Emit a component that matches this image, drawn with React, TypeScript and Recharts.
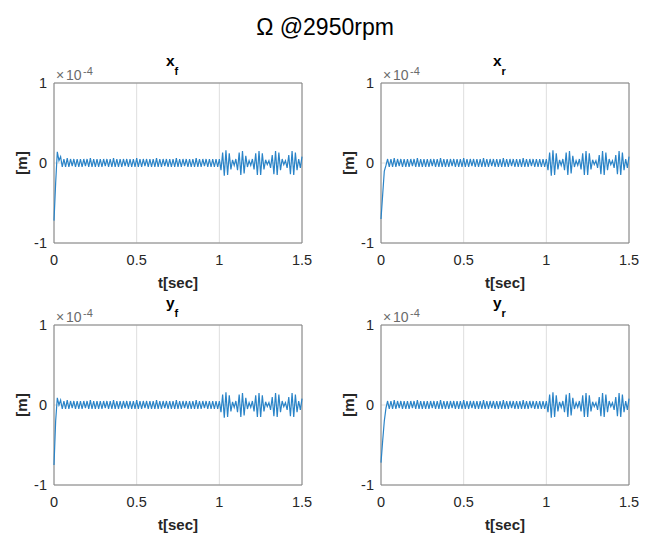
import React from 'react';
import { LineChart, Line, XAxis, YAxis, CartesianGrid, ReferenceLine } from 'recharts';

// displacement values in units of 1e-4 m, one sample every 0.01 s
const T_STEP = 0.01;

// first 0.05 s (t = 0 .. 0.04) for each signal
const XF_START = [-0.72, -0.25, 0.14, 0.03, 0.08];
const XR_START = [-0.7, -0.4, -0.1, -0.03, 0.05];
const YF_START = [-0.75, -0.2, 0.09, 0.0, 0.06];
const YR_START = [-0.72, -0.45, -0.2, -0.04, 0.05];

// t = 0.05 .. 0.99
const STEADY = [
  -0.05, 0.05, -0.05, 0.06, -0.05, 0.05, -0.04, 0.05, -0.05, 0.05,
  -0.05, 0.05, -0.05, 0.05, -0.04, 0.05, -0.05, 0.06, -0.05, 0.05,
  -0.05, 0.05, -0.05, 0.05, -0.05, 0.05, -0.04, 0.05, -0.05, 0.05,
  -0.05, 0.06, -0.05, 0.05, -0.05, 0.05, -0.05, 0.05, -0.04, 0.05,
  -0.05, 0.05, -0.05, 0.05, -0.05, 0.06, -0.05, 0.05, -0.05, 0.05,
  -0.04, 0.05, -0.05, 0.05, -0.05, 0.05, -0.05, 0.06, -0.05, 0.05,
  -0.05, 0.05, -0.04, 0.05, -0.05, 0.05, -0.05, 0.05, -0.05, 0.06,
  -0.05, 0.05, -0.05, 0.05, -0.04, 0.05, -0.05, 0.05, -0.05, 0.05,
  -0.05, 0.06, -0.05, 0.05, -0.05, 0.05, -0.04, 0.05, -0.05, 0.05,
  -0.05, 0.05, -0.05, 0.05, -0.05,
];

// t = 1.00 .. 1.50, beating after the disturbance
const BURST = [
  0.05, -0.09, 0.13, -0.16, 0.16, -0.15, 0.12, -0.08, 0.04, -0.03,
  0.05, -0.09, 0.13, -0.15, 0.15, -0.13, 0.09, -0.05, 0.03, -0.03,
  0.05, -0.08, 0.12, -0.15, 0.15, -0.15, 0.12, -0.08, 0.04, -0.02,
  0.03, -0.06, 0.1, -0.14, 0.15, -0.15, 0.13, -0.09, 0.05, -0.02,
  0.03, -0.06, 0.1, -0.14, 0.15, -0.15, 0.13, -0.09, 0.05, -0.06,
  0.08,
];

const X_TICKS = [0, 0.5, 1, 1.5];
const Y_TICKS = [-1, 0, 1];

const buildSeries = (start: number[]) =>
  [...start, ...STEADY, ...BURST].map((v, i) => ({ t: +(i * T_STEP).toFixed(2), v }));

const panels = [
  { key: 'xf', name: 'x', sub: 'f', data: buildSeries(XF_START), left: 54, top: 83 },
  { key: 'xr', name: 'x', sub: 'r', data: buildSeries(XR_START), left: 381, top: 83 },
  { key: 'yf', name: 'y', sub: 'f', data: buildSeries(YF_START), left: 54, top: 325 },
  { key: 'yr', name: 'y', sub: 'r', data: buildSeries(YR_START), left: 381, top: 325 },
];

const PW = 248;
const PH = 160;
const FONT = '"Liberation Sans", Arial, sans-serif';
const BOX = '#828282';

export default function App() {
  return (
    <div style={{ position: 'absolute', left: 0, top: 0, width: 648, height: 538, background: '#fff', fontFamily: FONT }}>
      {panels.map((p) => (
        <div key={p.key} style={{ position: 'absolute', left: p.left - 54, top: p.top - 45 }}>
          <LineChart width={54 + PW + 20} height={45 + PH + 60} data={p.data}
            margin={{ top: 45, right: 20, bottom: 0, left: 0 }}>
            <CartesianGrid stroke="#dedede" />
            <XAxis dataKey="t" type="number" domain={[0, 1.5]} ticks={X_TICKS} height={60}
              axisLine={false} tickLine={false} tickMargin={6}
              tick={{ fontSize: 14.5, fill: '#262626', fontFamily: FONT }} />
            <YAxis type="number" domain={[-1, 1]} ticks={Y_TICKS} width={54}
              axisLine={false} tickLine={false} tickMargin={1}
              tick={{ fontSize: 14.5, fill: '#262626', fontFamily: FONT }} />
            <ReferenceLine x={0} stroke={BOX} />
            <ReferenceLine x={1.5} stroke={BOX} />
            <ReferenceLine y={1} stroke={BOX} />
            <ReferenceLine y={-1} stroke={BOX} />
            <Line dataKey="v" type="linear" stroke="#2a84c8" strokeWidth={1.2} dot={false} isAnimationActive={false} />
          </LineChart>
        </div>
      ))}
      <svg width={648} height={538} style={{ position: 'absolute', left: 0, top: 0, pointerEvents: 'none' }}
        fontFamily={FONT}>
        <text x={325} y={35} textAnchor="middle" fontSize={23} fill="#000">Ω @2950rpm</text>
        {panels.map((p) => {
          const cx = p.left + PW / 2;
          return (
            <g key={p.key}>
              <text x={cx - 12} y={p.top - 17} fontSize={15.5} fontWeight="bold" fill="#000">{p.name}</text>
              <text x={cx - 3.5} y={p.top - 8.5} fontSize={11} fontWeight="bold" fill="#000">{p.sub}</text>
              <text x={p.left + 2} y={p.top - 3} fontSize={14} fill="#6b6b6b">×</text>
              <text x={p.left + 12} y={p.top - 3} fontSize={14} fill="#6b6b6b">10</text>
              <text x={p.left + 29} y={p.top - 8} fontSize={11} fill="#6b6b6b">-4</text>
              <text x={cx} y={p.top + PH + 45} textAnchor="middle" fontSize={15} fontWeight="bold" fill="#262626">t[sec]</text>
              <text x={p.left - 27} y={p.top + PH / 2} textAnchor="middle" fontSize={15} fontWeight="bold" fill="#262626"
                transform={`rotate(-90 ${p.left - 27} ${p.top + PH / 2})`}>[m]</text>
            </g>
          );
        })}
      </svg>
    </div>
  );
}
